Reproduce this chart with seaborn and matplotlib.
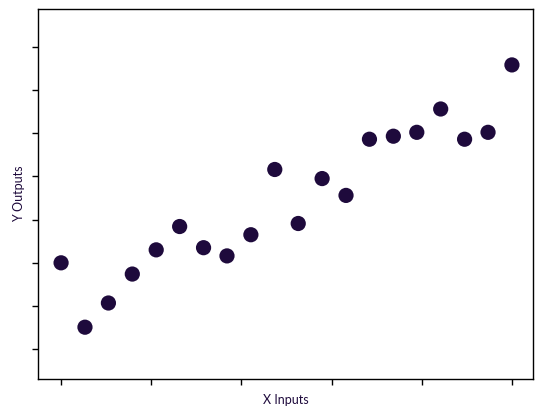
import matplotlib
matplotlib.use("Agg")
import matplotlib.pyplot as plt
import seaborn as sns
import pandas as pd

x_inputs = [0.0, 0.053, 0.105, 0.158, 0.211, 0.263, 0.316, 0.368, 0.421, 0.474,
            0.526, 0.579, 0.632, 0.684, 0.737, 0.789, 0.842, 0.895, 0.947, 1.0]
y_outputs = [2.0, 0.51, 1.07, 1.74, 2.30, 2.84, 2.35, 2.16, 2.65, 4.16,
             2.91, 3.95, 3.56, 4.86, 4.93, 5.02, 5.56, 4.86, 5.02, 6.58]
x_ticks = [0.0, 0.2, 0.4, 0.6, 0.8, 1.0]
y_ticks = [0, 1, 2, 3, 4, 5, 6, 7]

color = "#1e0a3c"

sns.set_style("ticks")
plt.rcParams['font.family'] = ['Lato', 'DejaVu Sans']

df = pd.DataFrame({"x": x_inputs, "y": y_outputs})

fig = plt.figure(figsize=(5.44, 4.17), dpi=100)
ax = fig.add_axes([0.070, 0.091, 0.910, 0.887])
sns.scatterplot(data=df, x="x", y="y", ax=ax, color=color, s=120, edgecolor="none")

ax.set_xlim(-0.051, 1.047)
ax.set_ylim(-0.69, 7.87)
ax.set_xticks(x_ticks)
ax.set_yticks(y_ticks)
ax.set_xticklabels([])
ax.set_yticklabels([])
ax.tick_params(length=4, width=1, color="black")
for s in ax.spines.values():
    s.set_color("black")
    s.set_linewidth(1)
ax.set_xlabel("X Inputs", fontsize=9, color=color, labelpad=3)
ax.set_ylabel("Y Outputs", fontsize=9, color=color, labelpad=2)

fig.savefig("out.png", dpi=100)
